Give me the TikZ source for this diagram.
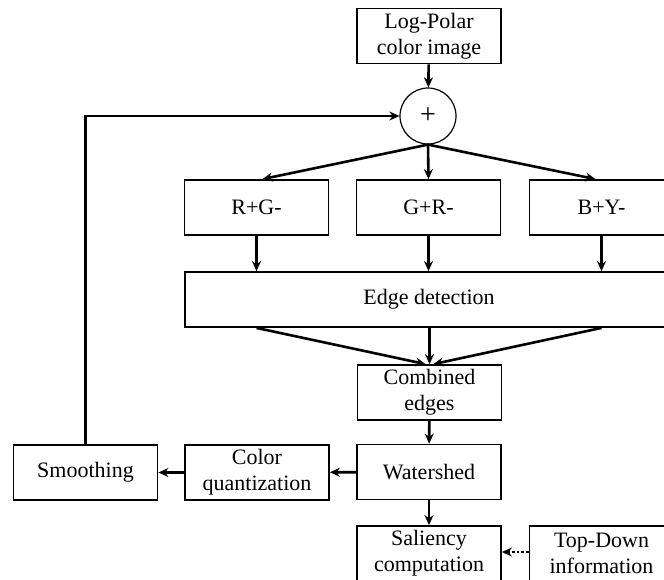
\documentclass[tikz,border=0pt]{standalone}
\usepackage{fontspec}
\setmainfont{Liberation Serif}
\usetikzlibrary{arrows.meta}
\begin{document}
\begin{tikzpicture}[x=1pt,y=-1pt,
  box/.style={draw,line width=1.8pt,inner sep=0pt,align=center,
    font=\fontsize{22}{26}\selectfont,minimum width=144pt,minimum height=55pt},
  arr/.style={line width=2.6pt,-{Stealth[length=10pt,width=9pt]}},
  sumnode/.style={draw,circle,line width=1.2pt,minimum size=56pt,inner sep=0pt,
    font=\fontsize{28}{28}\selectfont}]
\useasboundingbox (0,0) rectangle (664,579);
\node[box] (lp) at (429,36) {Log-Polar\\color image};
\node[sumnode] (sum) at (428,116) {+};
\node[box] (rg) at (256.5,207.5) {R+G-};
\node[box] (gr) at (428.5,207.5) {G+R-};
\node[box] (by) at (601.5,207.5) {B+Y-};
\node[box,minimum width=488pt] (ed) at (429,299.5) {Edge detection};
\node[box] (ce) at (429.5,392.5) {Combined\\edges};
\node[box] (ws) at (429,472) {Watershed};
\node[box] (cq) at (257,472.5) {Color\\quantization};
\node[box] (sm) at (85.5,472.5) {Smoothing};
\node[box] (sc) at (429,553.5) {Saliency\\computation};
\node[box] (td) at (601.5,553.5) {Top-Down\\information};
\draw[arr] (lp) -- (sum);
\draw[arr] (sum.south) -- ([xshift=6pt]rg.north);
\draw[arr] (sum.south) -- (gr.north);
\draw[arr] (sum.south) -- ([xshift=-6pt]by.north);
\draw[arr] (rg) -- (rg.south |- ed.north);
\draw[arr] (gr) -- (gr.south |- ed.north);
\draw[arr] (by) -- (by.south |- ed.north);
\draw[arr] (ed.south -| rg.south) -- ([xshift=-4pt]ce.north);
\draw[arr] (ed.south -| ce.north) -- (ce.north);
\draw[arr] (ed.south -| by.south) -- ([xshift=4pt]ce.north);
\draw[arr] (ce) -- (ws);
\draw[arr] (ws) -- (cq);
\draw[arr] (cq) -- (sm);
\draw[arr] (ws) -- (sc);
\draw[arr,dotted] (td.west |- 0,552) -- (sc.east |- 0,552);
\draw[arr] (sm.north) |- (sum.west);
\end{tikzpicture}
\end{document}
